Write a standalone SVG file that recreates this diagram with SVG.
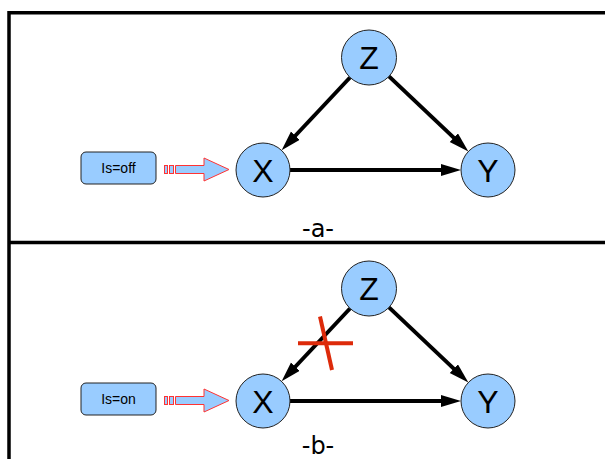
<svg xmlns="http://www.w3.org/2000/svg" width="605" height="459" viewBox="0 0 605 459">
<defs>
<style>
.node{fill:#99ccff;stroke:#222;stroke-width:1}
.lbl{font-family:"Liberation Sans",Arial,sans-serif;font-size:32px;fill:#000;text-anchor:middle}
.btxt{font-family:"Liberation Sans",Arial,sans-serif;font-size:14px;fill:#000;text-anchor:middle}
.cap{font-family:"DejaVu Sans",sans-serif;font-size:24px;fill:#000;text-anchor:middle}
.edge{stroke:#000;stroke-width:4;fill:none}
.blk{fill:#99ccff;stroke:#ff3333;stroke-width:1}
.frame{stroke:#000;stroke-width:3.5;fill:none}
</style>
<marker id="ah" markerUnits="userSpaceOnUse" markerWidth="22" markerHeight="14" refX="10" refY="6" orient="auto">
<path d="M0,0 L20,6 L0,12 Z" fill="#000"/>
</marker>
</defs>
<rect width="605" height="459" fill="#fff"/>
<g id="frame">
<path class="frame" d="M9,459 V12.7 H605"/>
<path class="frame" d="M9,242.5 H605"/>
</g>
<g id="connectors">
<line class="edge" x1="350" y1="77.5" x2="288.5" y2="143" marker-end="url(#ah)"/>
<line class="edge" x1="389" y1="76.4" x2="461.1" y2="144.6" marker-end="url(#ah)"/>
<line class="edge" x1="290" y1="170" x2="451" y2="170" marker-end="url(#ah)"/>
<line class="edge" x1="350" y1="308.5" x2="288.5" y2="374" marker-end="url(#ah)"/>
<line class="edge" x1="389" y1="307.4" x2="461.1" y2="375.6" marker-end="url(#ah)"/>
<line class="edge" x1="290" y1="401" x2="451" y2="401" marker-end="url(#ah)"/>
</g>
<g id="panel-a">
<g id="Z-a"><ellipse class="node" cx="369" cy="57.5" rx="27.5" ry="27.5"/><text class="lbl" x="369" y="69">Z</text></g>
<g id="X-a"><ellipse class="node" cx="263" cy="170" rx="27" ry="27"/><text class="lbl" x="263" y="181.5">X</text></g>
<g id="Y-a"><ellipse class="node" cx="488" cy="170" rx="27" ry="27"/><text class="lbl" x="488" y="181.5">Y</text></g>
<g id="Is-off"><rect class="node" x="81" y="152" width="75" height="32" rx="5"/><text class="btxt" x="118.5" y="173">Is=off</text></g>
<g id="arrow-a">
<rect class="blk" x="164.5" y="165.5" width="3" height="8"/>
<rect class="blk" x="169.5" y="165.5" width="4" height="8"/>
<path class="blk" d="M175.5,165.5 H204 V158 L229,169.5 L204,181 V173.5 H175.5 Z"/>
</g>
<text class="cap" x="318" y="237">-a-</text>
</g>
<g id="panel-b">
<g id="Z-b"><ellipse class="node" cx="369" cy="288.5" rx="27.5" ry="27.5"/><text class="lbl" x="369" y="300">Z</text></g>
<g id="X-b"><ellipse class="node" cx="263" cy="401" rx="27" ry="27"/><text class="lbl" x="263" y="412.5">X</text></g>
<g id="Y-b"><ellipse class="node" cx="488" cy="401" rx="27" ry="27"/><text class="lbl" x="488" y="412.5">Y</text></g>
<g id="Is-on"><rect class="node" x="81" y="383" width="75" height="32" rx="5"/><text class="btxt" x="118.5" y="404">Is=on</text></g>
<g id="arrow-b">
<rect class="blk" x="164.5" y="396.5" width="3" height="8"/>
<rect class="blk" x="169.5" y="396.5" width="4" height="8"/>
<path class="blk" d="M175.5,396.5 H204 V389 L229,400.5 L204,412 V404.5 H175.5 Z"/>
</g>
<g id="cross">
<line x1="298" y1="343.3" x2="353" y2="343.3" stroke="#dd2a0a" stroke-width="4"/>
<line x1="320" y1="316.5" x2="332" y2="370" stroke="#dd2a0a" stroke-width="4"/>
</g>
<text class="cap" x="318" y="454">-b-</text>
</g>
</svg>
